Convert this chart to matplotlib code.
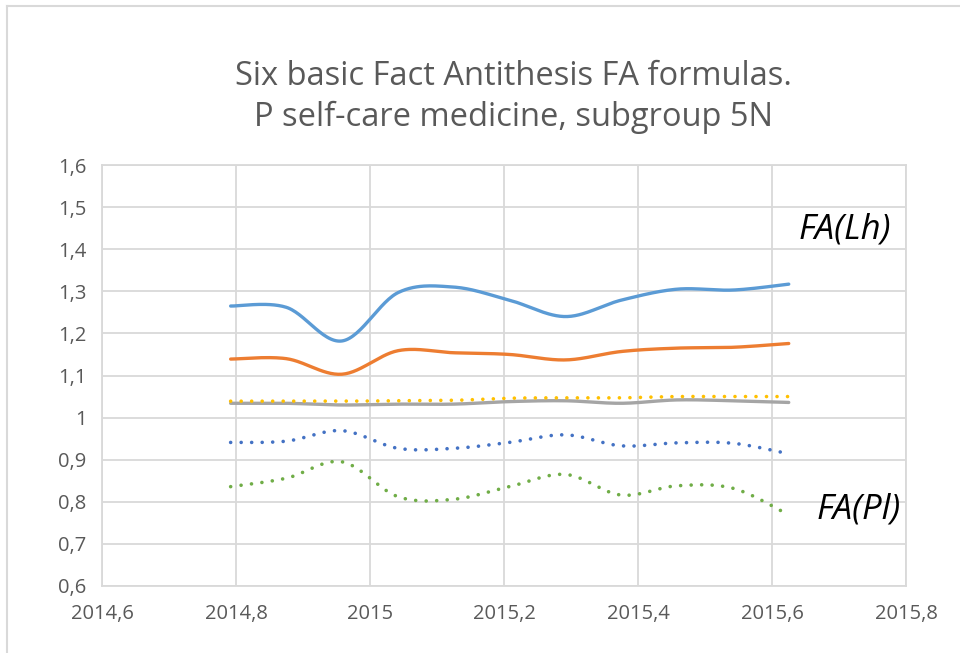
import numpy as np
import matplotlib
matplotlib.use("Agg")
import matplotlib.pyplot as plt
from matplotlib.lines import Line2D

# ---- data ----
x_vals = [2014.792, 2014.875, 2014.958, 2015.042, 2015.125, 2015.208,
          2015.292, 2015.375, 2015.458, 2015.542, 2015.625]
fa_lh = [1.265, 1.262, 1.182, 1.297, 1.310, 1.279, 1.240, 1.279, 1.305, 1.303, 1.317]
fa_orange = [1.139, 1.140, 1.103, 1.159, 1.154, 1.150, 1.137, 1.157, 1.165, 1.167, 1.176]
fa_gray = [1.034, 1.034, 1.030, 1.032, 1.032, 1.038, 1.040, 1.034, 1.042, 1.040, 1.036]
fa_yellow = [1.039, 1.039, 1.039, 1.040, 1.041, 1.046, 1.047, 1.047, 1.050, 1.050, 1.050]
fa_blue_dot = [0.941, 0.944, 0.969, 0.927, 0.927, 0.941, 0.959, 0.933, 0.940, 0.939, 0.914]
fa_pl = [0.836, 0.856, 0.895, 0.812, 0.806, 0.836, 0.865, 0.816, 0.838, 0.832, 0.769]

x_ticks = [2014.6, 2014.8, 2015.0, 2015.2, 2015.4, 2015.6, 2015.8]
x_labels = ["2014,6", "2014,8", "2015", "2015,2", "2015,4", "2015,6", "2015,8"]
y_ticks = [0.6, 0.7, 0.8, 0.9, 1.0, 1.1, 1.2, 1.3, 1.4, 1.5, 1.6]
y_labels = ["0,6", "0,7", "0,8", "0,9", "1", "1,1", "1,2", "1,3", "1,4", "1,5", "1,6"]

title = "Six basic Fact Antithesis FA formulas.\nP self-care medicine, subgroup 5N"


def smooth(xs, ys, n=30):
    """Excel-like smoothed line: Catmull-Rom via cubic Bezier segments."""
    P = np.column_stack([xs, ys]).astype(float)
    pts = []
    m = len(P)
    for i in range(m - 1):
        p0 = P[i - 1] if i > 0 else P[i]
        p1 = P[i]
        p2 = P[i + 1]
        p3 = P[i + 2] if i + 2 < m else P[i + 1]
        c1 = p1 + (p2 - p0) / 6.0
        c2 = p2 - (p3 - p1) / 6.0
        t = np.linspace(0, 1, n, endpoint=(i == m - 2))[:, None]
        seg = ((1 - t) ** 3) * p1 + 3 * ((1 - t) ** 2) * t * c1 + 3 * (1 - t) * t ** 2 * c2 + t ** 3 * p2
        pts.append(seg)
    pts = np.vstack(pts)
    return pts[:, 0], pts[:, 1]


plt.rcParams['font.family'] = ['Open Sans', 'DejaVu Sans']

fig = plt.figure(figsize=(9.6, 6.53), dpi=100)
ax = fig.add_axes([102 / 960, 1 - 586 / 653, (906 - 102) / 960, (586 - 165) / 653])

grid_c = "#d9d9d9"
ax.set_xlim(2014.6, 2015.8)
ax.set_ylim(0.6, 1.6)
ax.set_xticks(x_ticks)
ax.set_xticklabels(x_labels)
ax.set_yticks(y_ticks)
ax.set_yticklabels(y_labels)
ax.grid(True, color=grid_c, linewidth=1.3)
ax.set_axisbelow(True)
for s in ax.spines.values():
    s.set_color(grid_c)
    s.set_linewidth(1.3)
ax.tick_params(length=0, labelsize=14.5, colors="#595959", pad=11)
ax.tick_params(axis='x', pad=13)

solid_lw = 2.4
dot_ls = (0, (0.01, 2.9))

series = [
    (fa_lh, "#5b9bd5", "-"),
    (fa_orange, "#ed7d31", "-"),
    (fa_gray, "#a5a5a5", "-"),
    (fa_yellow, "#ffc000", dot_ls),
    (fa_blue_dot, "#4472c4", dot_ls),
    (fa_pl, "#70ad47", dot_ls),
]
for ys, col, ls in series:
    sx, sy = smooth(x_vals, ys)
    if ls == "-":
        ax.plot(sx, sy, color=col, lw=solid_lw, solid_capstyle="round", solid_joinstyle="round")
    else:
        ax.plot(sx, sy, color=col, lw=2.6, linestyle=ls, dash_capstyle="round")

fig.text(513 / 960, 1 - 97 / 653, title, ha="center", va="center", fontsize=23.5,
         color="#595959", linespacing=1.28)

fig.text(845 / 960, 1 - 230 / 653, "FA(Lh)", ha="center", va="center", fontsize=25,
         style="italic", color="black")
fig.text(859 / 960, 1 - 510 / 653, "FA(Pl)", ha="center", va="center", fontsize=25,
         style="italic", color="black")

# outer chart border (left & top visible)
fig.add_artist(Line2D([7 / 960, 7 / 960], [0, 1 - 6 / 653], transform=fig.transFigure,
                      color="#d9d9d9", lw=1.5))
fig.add_artist(Line2D([7 / 960, 1], [1 - 6 / 653, 1 - 6 / 653], transform=fig.transFigure,
                      color="#d9d9d9", lw=1.5))

fig.savefig("out.png", dpi=100, facecolor="white")
